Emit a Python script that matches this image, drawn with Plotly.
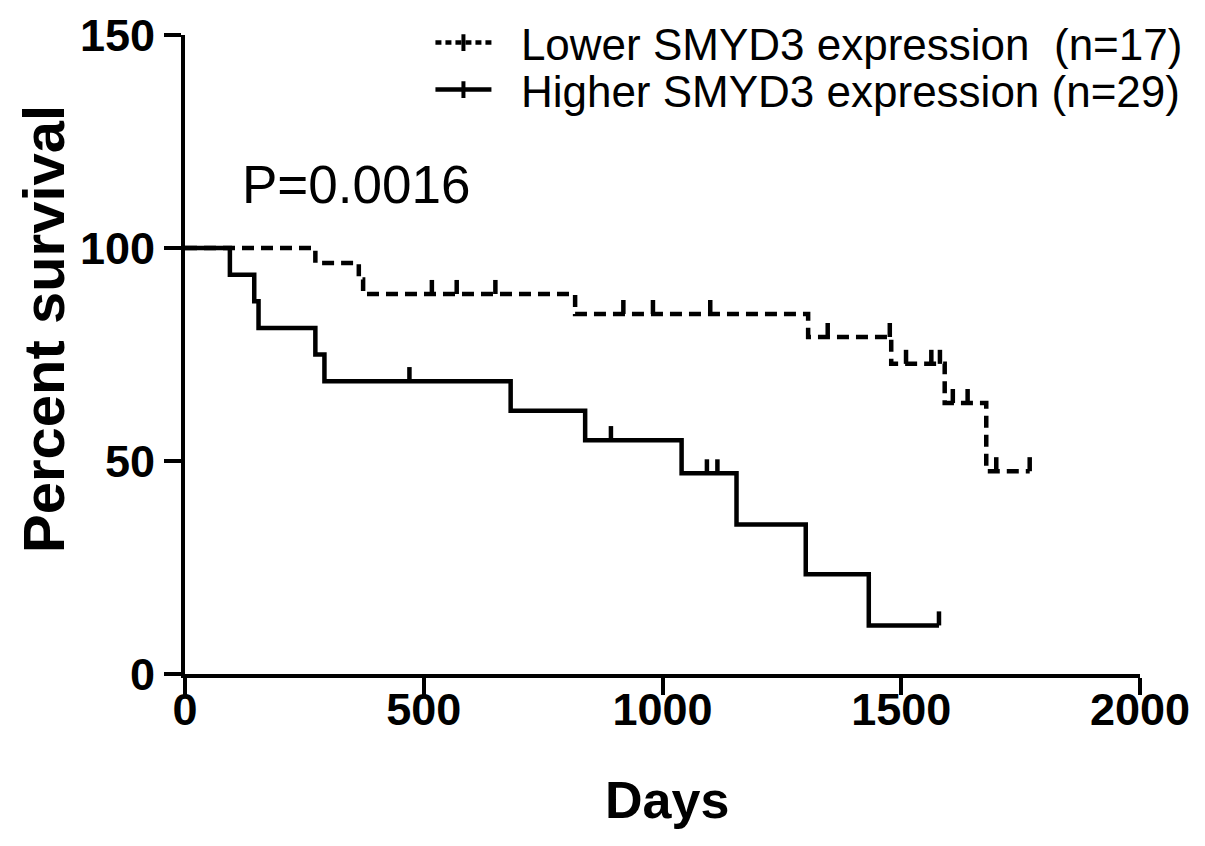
import plotly.graph_objects as go

# ---- data ----
lower_times = [0, 273, 364, 373, 817, 1305, 1479, 1591, 1678]
lower_surv = [100, 96.5, 92.6, 89.2, 84.5, 79.1, 72.8, 63.6, 47.6]
lower_end = 1769
lower_censor = [517, 569, 650, 918, 980, 1100, 1346, 1476, 1510, 1563, 1581,
                1608, 1639, 1699, 1769]

higher_times = [0, 94, 145, 154, 273, 292, 682, 838, 1040, 1155, 1300, 1432]
higher_surv = [100, 93.75, 87.5, 81.25, 75, 68.75, 61.8, 54.9, 47.1, 35.1, 23.4, 11.4]
higher_end = 1579
higher_censor = [470, 892, 1093, 1115, 1579]

x_ticks = [0, 500, 1000, 1500, 2000]
y_ticks = [0, 50, 100, 150]

lower_name = "Lower SMYD3 expression  (n=17)"
higher_name = "Higher SMYD3 expression (n=29)"
p_text = "P=0.0016"

FONT = "Liberation Sans, Arial, sans-serif"
LW = 4.5
DASH = "12px,7px"
TICK_H = 3.3
LEGEND_PAD = "  "  # gap between legend symbol and label


def surv_at(times, surv, t):
    v = surv[0]
    for ti, si in zip(times, surv):
        if ti <= t:
            v = si
    return v


def censor_xy(times, surv, cens):
    xs, ys = [], []
    for c in cens:
        s = surv_at(times, surv, c)
        xs += [c, c, None]
        ys += [s, s + TICK_H, None]
    return xs, ys


fig = go.Figure()

# lower (dashed) curve
fig.add_trace(go.Scatter(
    x=lower_times + [lower_end], y=lower_surv + [lower_surv[-1]],
    mode="lines", line=dict(color="black", width=LW, dash=DASH, shape="hv"),
    showlegend=False, hoverinfo="skip"))
cx, cy = censor_xy(lower_times, lower_surv, lower_censor)
fig.add_trace(go.Scatter(x=cx, y=cy, mode="lines",
                         line=dict(color="black", width=LW),
                         showlegend=False, hoverinfo="skip"))

# higher (solid) curve
fig.add_trace(go.Scatter(
    x=higher_times + [higher_end], y=higher_surv + [higher_surv[-1]],
    mode="lines", line=dict(color="black", width=LW, shape="hv"),
    showlegend=False, hoverinfo="skip"))
cx, cy = censor_xy(higher_times, higher_surv, higher_censor)
fig.add_trace(go.Scatter(x=cx, y=cy, mode="lines",
                         line=dict(color="black", width=LW),
                         showlegend=False, hoverinfo="skip"))

# legend entries (two independent legends so each row can be placed)
fig.add_trace(go.Scatter(x=[None], y=[None], name=LEGEND_PAD + lower_name,
                         mode="lines+markers", legend="legend",
                         line=dict(color="black", width=LW, dash="6px,4px"),
                         marker=dict(symbol="line-ns", size=12,
                                     line=dict(color="black", width=4))))
fig.add_trace(go.Scatter(x=[None], y=[None], name=LEGEND_PAD + higher_name,
                         mode="lines+markers", legend="legend2",
                         line=dict(color="black", width=LW),
                         marker=dict(symbol="line-ns", size=12,
                                     line=dict(color="black", width=4))))

fig.add_annotation(x=115, y=115, xref="x", yref="y", text=p_text, showarrow=False,
                   xanchor="left", yanchor="middle",
                   font=dict(family=FONT, size=53, color="black"))

fig.add_annotation(x=-0.1476, y=0.54, xref="paper", yref="paper",
                   text="Percent survival", textangle=-90, showarrow=False,
                   xanchor="center", yanchor="middle",
                   font=dict(family=FONT, size=58, color="black", weight="bold"))
fig.add_annotation(x=0.505, y=-0.197, xref="paper", yref="paper",
                   text="Days", showarrow=False,
                   xanchor="center", yanchor="middle",
                   font=dict(family=FONT, size=52, color="black", weight="bold"))

axis_common = dict(showgrid=False, zeroline=False, showline=True, linecolor="black",
                   linewidth=4, ticks="outside", ticklen=17, tickwidth=4,
                   tickcolor="black",
                   tickfont=dict(family=FONT, size=45, color="black", weight="bold"))

fig.update_xaxes(range=[0, 2000], tickvals=x_ticks, ticktext=[str(v) for v in x_ticks],
                 ticklabelstandoff=-24, **axis_common)
fig.update_yaxes(range=[0, 150], tickvals=y_ticks, ticktext=[str(v) for v in y_ticks],
                 **axis_common)

legend_common = dict(xanchor="left", yanchor="middle",
                     font=dict(family=FONT, size=44, color="black"),
                     bgcolor="rgba(0,0,0,0)", itemwidth=56)

fig.update_layout(
    width=1197, height=838,
    margin=dict(l=177, r=65, t=27, b=172, autoexpand=False),
    paper_bgcolor="white", plot_bgcolor="white",
    legend=dict(x=0.257, y=0.9875, **legend_common),
    legend2=dict(x=0.257, y=0.914, **legend_common),
)

fig.write_html("out.html")
